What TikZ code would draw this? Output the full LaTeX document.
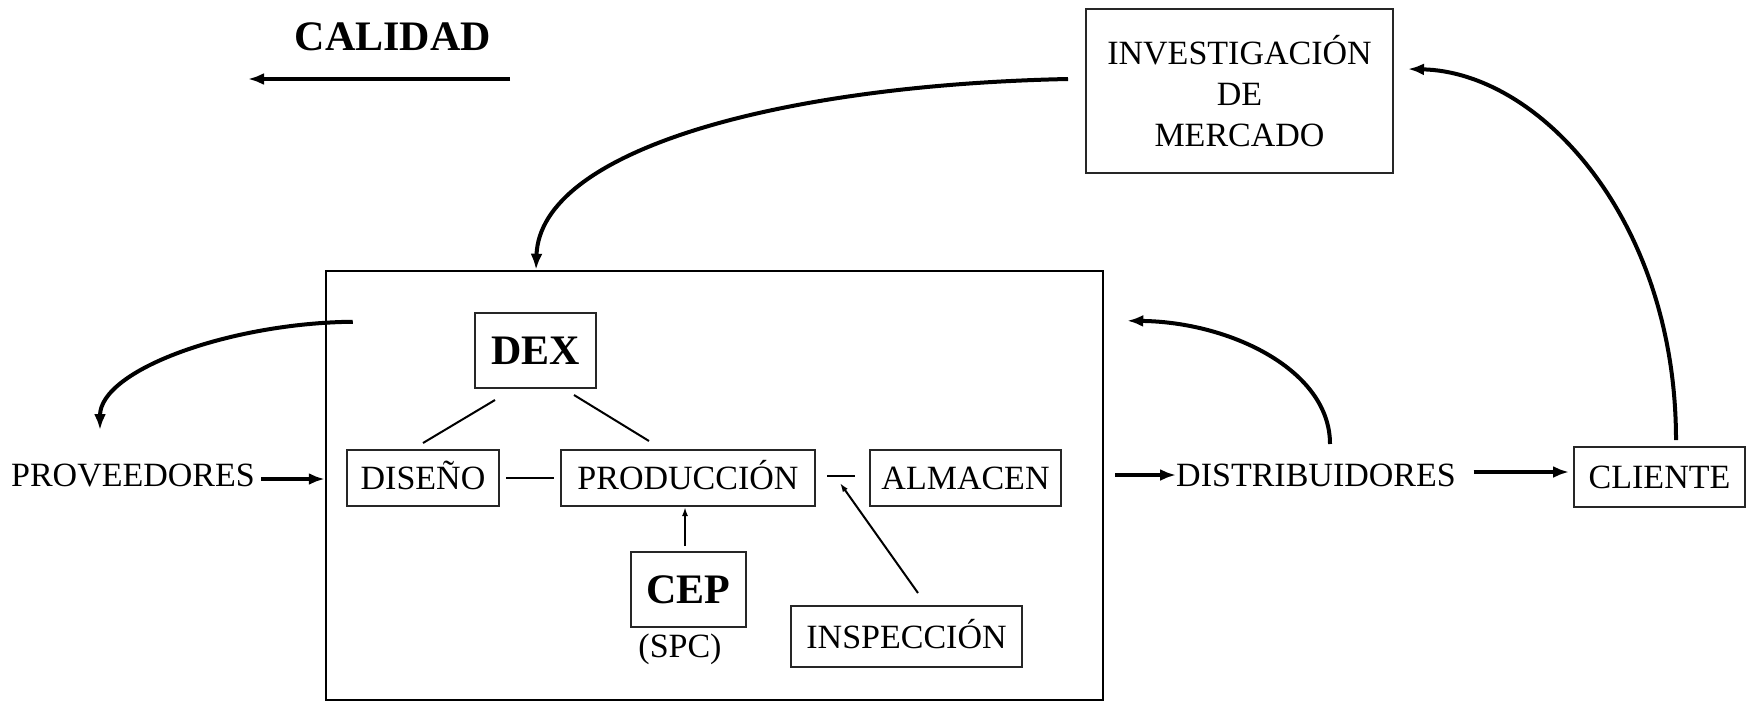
\documentclass[tikz,border=0pt]{standalone}
\usepackage{fontspec}
\setmainfont{Liberation Serif}
\usetikzlibrary{arrows.meta}
\begin{document}
\begin{tikzpicture}[x=1pt,y=-1pt,
  txt/.style={inner sep=0pt, font=\fontsize{34}{41}\selectfont, text height=23pt, text depth=0pt},
  box/.style={txt, draw=black!85, line width=2pt},
  bbox/.style={box, font=\fontsize{42}{46}\selectfont\bfseries, text height=27pt},
  arr/.style={line width=4pt, -{Latex[length=16pt,width=12pt]}},
  sarr/.style={line width=2pt, -{Latex[length=9pt,width=6pt]}},
  link/.style={line width=2pt}]
\useasboundingbox (0,0) rectangle (1752,702);
% nodes
\node[txt, font=\fontsize{42}{46}\selectfont\bfseries, text height=28pt] (cal) at (393,36) {CALIDAD};
\coordinate (qa) at (510,79);
\coordinate (qb) at (248,79);
\node[draw=black!85, line width=2pt, minimum width=307, minimum height=164, inner sep=0pt, align=center, font=\fontsize{34}{41}\selectfont] (inv) at (1239.5,91) {INVESTIGACIÓN\\DE\\MERCADO};
\node[draw, line width=2.5pt, minimum width=777, minimum height=429, inner sep=0pt] (main) at (714.5,485.5) {};
\node[bbox, minimum width=121, minimum height=75] (dex) at (535.5,350.5) {DEX};
\node[box, minimum width=152, minimum height=56] (dis) at (423,478) {DISEÑO};
\node[box, minimum width=254, minimum height=56] (prod) at (688,478) {PRODUCCIÓN};
\node[box, minimum width=191, minimum height=56] (alm) at (965.5,478) {ALMACEN};
\node[bbox, minimum width=115, minimum height=75] (cep) at (688.5,589.5) {CEP};
\node[txt] (spc) at (680,646) {(SPC)};
\node[box, minimum width=231, minimum height=61] (insp) at (906.5,636.5) {INSPECCIÓN};
\node[box, minimum width=171, minimum height=60] (cli) at (1659.5,477) {CLIENTE};
\node[txt, inner xsep=6pt] (prov) at (133,475) {PROVEEDORES};
\node[txt] (dist) at (1316,475) {DISTRIBUIDORES};
% connectors
\draw[arr] (qa) -- (qb);
\draw[arr] ([xshift=-17,yshift=12]inv.west) .. controls (780,85) and (540,150) .. ([xshift=-178.5]main.north);
\draw[arr] ([xshift=28,yshift=-52]main.north west) .. controls (230,323) and (100,370) .. ([xshift=-33,yshift=45]prov.center);
\draw[arr] ([xshift=14,yshift=31]dist.center) .. controls (1330,370) and (1230,322) .. ([xshift=23,yshift=-51]main.north east);
\draw[arr] ([xshift=16.5,yshift=6]cli.north) .. controls (1676,220) and (1540,72) .. ([xshift=14,yshift=22]inv.east);
\draw[arr] ([yshift=-4]prov.east) -- ([yshift=-4]prov.east -| main.west);
\draw[arr, shorten <=11pt] (main.east |- dist.center) -- (dist.west);
\draw[arr, shorten <=17.5pt, shorten >=4pt] ([yshift=3]dist.east) -- ([yshift=3]dist.east -| cli.west);
\draw[link] ([xshift=6]dis.east) -- ([xshift=-6]prod.west);
\draw[link, line width=2.8pt] ([xshift=11,yshift=2]prod.east) -- ([xshift=-14,yshift=2]alm.west);
\draw[link] ([xshift=-40.5,yshift=-11]dex.south) -- ([yshift=6]dis.north);
\draw[link] ([xshift=38.5,yshift=-6]dex.south) -- ([xshift=-39,yshift=8]prod.north);
\draw[sarr] ([xshift=-3.5,yshift=5]cep.north) -- ([xshift=-3]prod.south);
\draw[sarr] ([xshift=11.5,yshift=12]insp.north) -- ([xshift=24,yshift=-5]prod.east);
\end{tikzpicture}
\end{document}
